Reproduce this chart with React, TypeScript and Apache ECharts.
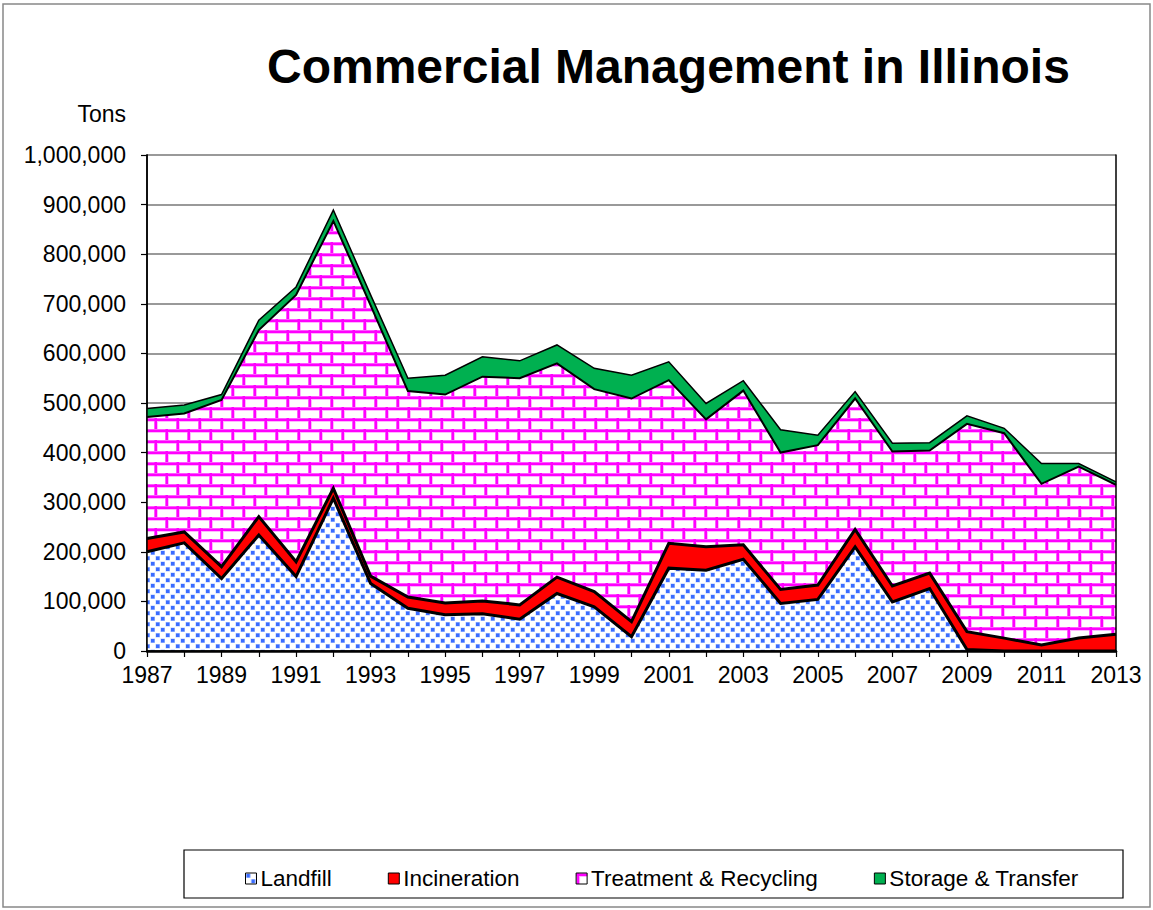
import React, { useEffect, useRef } from "react";
import * as echarts from "echarts";

const years = [
  "1987", "1988", "1989", "1990", "1991", "1992", "1993", "1994", "1995",
  "1996", "1997", "1998", "1999", "2000", "2001", "2002", "2003", "2004",
  "2005", "2006", "2007", "2008", "2009", "2010", "2011", "2012", "2013",
];

const landfill = [
  200000, 218000, 146000, 234000, 150000, 308000, 136000, 86000, 73000,
  75000, 64000, 116000, 89000, 29000, 167000, 163000, 185000, 96000,
  104000, 210000, 99000, 126000, 3000, 0, 0, 0, 0,
];
const incineration = [
  27000, 22000, 24000, 37000, 30000, 20000, 15000, 23000, 24000,
  26000, 29000, 33000, 31000, 30000, 50000, 47000, 29000, 28000,
  29000, 35000, 32000, 31000, 36000, 26000, 12000, 26000, 34000,
];
const treatment = [
  245000, 239000, 336000, 376000, 538000, 539000, 546000, 415000, 420000,
  452000, 457000, 431000, 408000, 450000, 329000, 257000, 311000, 276000,
  282000, 264000, 271000, 247000, 419000, 413000, 325000, 346000, 301000,
];
const storage = [
  17000, 17000, 11000, 20000, 16000, 22000, 21000, 26000, 39000,
  40000, 35000, 37000, 42000, 47000, 37000, 32000, 20000, 46000,
  20000, 14000, 17000, 16000, 16000, 10000, 41000, 6000, 6000,
];

const seriesNames = ["Landfill", "Incineration", "Treatment & Recycling", "Storage & Transfer"];
const title = "Commercial Management in Illinois";
const unitLabel = "Tons";

const FONT = "'Liberation Sans', Arial, Helvetica, sans-serif";

function makeDots(): HTMLCanvasElement {
  const c = document.createElement("canvas");
  c.width = 10;
  c.height = 11;
  const g = c.getContext("2d")!;
  g.fillStyle = "#ffffff";
  g.fillRect(0, 0, 10, 11);
  const sq = (x: number, y: number) => {
    g.fillStyle = "#b8ccff";
    g.fillRect(x - 0.5, y - 0.5, 4.5, 4.5);
    g.fillStyle = "#3a6cff";
    g.fillRect(x, y, 3.5, 3.5);
  };
  sq(1, 1);
  sq(6, 6.5);
  return c;
}

function makeBrick(): HTMLCanvasElement {
  const c = document.createElement("canvas");
  c.width = 22;
  c.height = 22;
  const g = c.getContext("2d")!;
  g.fillStyle = "#ffffff";
  g.fillRect(0, 0, 22, 22);
  g.fillStyle = "#ffb3ff";
  g.fillRect(0, 0, 22, 4);
  g.fillRect(0, 11, 22, 4);
  g.fillRect(0, 0, 4, 11);
  g.fillRect(11, 11, 4, 11);
  g.fillStyle = "#ff00ff";
  g.fillRect(0, 0.5, 22, 2.5);
  g.fillRect(0, 11.5, 22, 2.5);
  g.fillRect(0.5, 0, 2.5, 11);
  g.fillRect(11.5, 11, 2.5, 11);
  return c;
}

export default function App() {
  const ref = useRef<HTMLDivElement>(null);

  useEffect(() => {
    document.body.style.margin = "0";
    const chart = echarts.init(ref.current!, null, { renderer: "svg" });

    const dots = makeDots();
    const brick = makeBrick();
    const dotFill: any = { image: dots, repeat: "repeat", imageWidth: dots.width, imageHeight: dots.height };
    const brickFill: any = { image: brick, repeat: "repeat", imageWidth: brick.width, imageHeight: brick.height };

    const values = [landfill, incineration, treatment, storage];
    const fills: any[] = [dotFill, "#ff0000", brickFill, "#00b050"];
    const solid = ["#3366ff", "#ff0000", "#ff00ff", "#00b050"];
    const edgeWidths = [3, 3, 2, 1.5];

    const areaSeries = seriesNames.map((name, i) => ({
      name,
      type: "line",
      stack: "total",
      data: values[i],
      symbol: "none",
      showSymbol: false,
      xAxisIndex: 0,
      yAxisIndex: 0,
      lineStyle: { width: 0, color: solid[i] },
      itemStyle: { color: solid[i] },
      areaStyle: { color: fills[i], opacity: 1 },
      z: 2,
      silent: true,
    }));

    const edgeSeries = seriesNames.map((name, i) => ({
      name: name + " edge",
      type: "line",
      stack: "edges",
      data: values[i],
      symbol: "none",
      showSymbol: false,
      xAxisIndex: 0,
      yAxisIndex: 0,
      lineStyle: { width: edgeWidths[i], color: "#000000", join: "miter" },
      itemStyle: { color: "#000000" },
      z: 3,
      silent: true,
    }));

    const option: any = {
      animation: false,
      backgroundColor: "#ffffff",
      textStyle: { fontFamily: FONT },
      title: {
        text: title,
        left: 262,
        top: 37,
        textStyle: { fontFamily: FONT, fontSize: 48, fontWeight: "bold", color: "#000" },
      },
      grid: { left: 147, right: 37, top: 155, bottom: 259, containLabel: false },
      legend: {
        data: seriesNames.map((n, i) => ({
          name: n,
          icon: "rect",
          itemStyle: { color: fills[i], borderColor: "#000", borderWidth: 1 },
        })),
        left: 240,
        top: 862,
        itemWidth: 11,
        itemHeight: 11,
        itemGap: 56,
        selectedMode: false,
        textStyle: { fontFamily: FONT, fontSize: 22.5, color: "#000", padding: [0, 0, 0, -1] },
      },
      xAxis: [
        {
          type: "category",
          data: years,
          boundaryGap: false,
          position: "bottom",
          z: 10,
          axisLine: { show: true, lineStyle: { color: "#000", width: 2.5 } },
          axisTick: { show: true, interval: 0, length: 6, lineStyle: { color: "#000", width: 1.2 } },
          axisLabel: { interval: 1, fontFamily: FONT, fontSize: 23, color: "#000", margin: 12 },
          splitLine: { show: false },
        },
        {
          type: "category",
          data: years,
          boundaryGap: false,
          position: "top",
          z: 10,
          axisLine: { show: true, lineStyle: { color: "#000", width: 1.5 } },
          axisTick: { show: false },
          axisLabel: { show: false },
          splitLine: { show: false },
        },
      ],
      yAxis: [
        {
          type: "value",
          min: 0,
          max: 1000000,
          interval: 100000,
          position: "left",
          z: 0,
          axisLine: { show: true, lineStyle: { color: "#000", width: 1.5 } },
          axisTick: { show: true, length: 6, lineStyle: { color: "#000", width: 1.2 } },
          axisLabel: {
            fontFamily: FONT,
            fontSize: 23,
            color: "#000",
            margin: 21,
            formatter: (v: number) => v.toLocaleString("en-US"),
          },
          splitLine: { show: true, lineStyle: { color: "#777777", width: 1.5 } },
        },
        {
          type: "value",
          min: 0,
          max: 1000000,
          interval: 100000,
          position: "left",
          z: 10,
          axisLine: { show: true, lineStyle: { color: "#000", width: 1.5 } },
          axisTick: { show: false },
          axisLabel: { show: false },
          splitLine: { show: false },
        },
        {
          type: "value",
          min: 0,
          max: 1000000,
          interval: 100000,
          position: "right",
          z: 10,
          axisLine: { show: true, lineStyle: { color: "#000", width: 1.5 } },
          axisTick: { show: false },
          axisLabel: { show: false },
          splitLine: { show: false },
        },
      ],
      graphic: [
        {
          type: "rect",
          shape: { x: 3, y: 4, width: 1147, height: 903 },
          style: { fill: "none", stroke: "#888888", lineWidth: 1.5 },
          silent: true,
          z: -1,
        },
        {
          type: "rect",
          shape: { x: 184, y: 850, width: 939, height: 48 },
          style: { fill: "none", stroke: "#000000", lineWidth: 1.2 },
          silent: true,
        },
        {
          type: "text",
          x: 126,
          y: 114,
          style: {
            text: unitLabel,
            fill: "#000",
            font: `23px ${FONT}`,
            textAlign: "right",
            textVerticalAlign: "middle",
          },
          silent: true,
        },
      ],
      series: [...areaSeries, ...edgeSeries],
    };

    chart.setOption(option);
    return () => chart.dispose();
  }, []);

  return <div ref={ref} style={{ width: 1153, height: 910 }} />;
}
